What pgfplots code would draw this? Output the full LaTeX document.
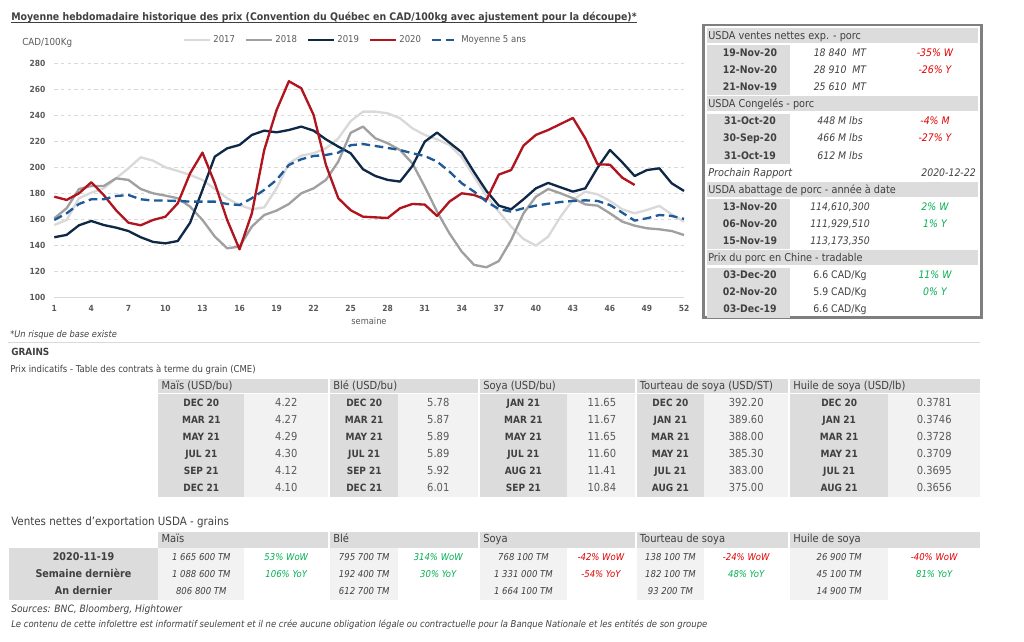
\documentclass[border=0pt]{standalone}
\usepackage{pgfplots}
\usepackage{pgfplotstable}
\pgfplotsset{compat=1.18}
\usepackage{fontspec}
\setmainfont{DejaVu Sans Condensed}

\definecolor{c17}{HTML}{D9D9D9}
\definecolor{c18}{HTML}{A0A0A0}
\definecolor{c19}{HTML}{0F2846}
\definecolor{c20}{HTML}{B0141E}
\definecolor{cavg}{HTML}{1F5A96}
\definecolor{gridc}{HTML}{D9D9D9}
\definecolor{txt}{HTML}{404040}
\definecolor{txtl}{HTML}{595959}
\definecolor{hdr}{HTML}{DCDCDC}
\definecolor{cell}{HTML}{F2F2F2}
\definecolor{neg}{HTML}{E00000}
\definecolor{pos}{HTML}{00B050}
\definecolor{boxc}{HTML}{7F7F7F}

\newcommand{\fs}[1]{\fontsize{#1}{#1}\selectfont}

% weekly price, CAD/100kg
\pgfplotstableread{
w y17 y18 y19 y20 yavg
1 155.6 160.8 146.2 177.4 159.5
2 159.5 168.5 148.0 174.9 164.6
3 176.2 183.3 155.4 180.0 171.8
4 180.5 185.6 158.7 188.5 175.4
5 183.8 185.6 155.6 178.7 175.4
6 191.5 191.5 153.6 167.0 177.9
7 199.2 190.3 151.0 157.4 178.7
8 207.7 183.3 146.2 155.4 175.4
9 205.1 180.0 142.6 159.5 174.4
10 200.0 178.2 141.5 162.0 174.4
11 197.2 176.2 143.3 172.3 174.1
12 194.1 169.7 157.4 195.4 173.6
13 190.3 159.5 182.6 211.3 173.6
14 183.3 146.7 208.2 187.7 173.6
15 176.2 137.7 214.6 159.5 171.8
16 171.0 139.0 217.2 136.9 171.0
17 167.7 154.4 224.9 164.6 176.2
18 169.2 163.3 228.2 213.3 182.6
19 183.8 166.7 226.9 244.0 190.3
20 203.0 171.8 228.7 266.2 201.8
21 209.0 180.0 231.3 260.8 206.2
22 210.8 183.8 228.2 240.3 208.7
23 214.6 190.3 221.5 201.8 209.5
24 222.3 204.4 215.9 176.2 211.3
25 235.5 226.5 210.8 167.0 217.0
26 242.8 231.3 198.5 162.0 217.9
27 242.8 222.3 193.3 161.5 216.4
28 241.5 218.5 190.3 161.0 214.9
29 237.7 213.3 189.0 168.5 213.3
30 230.0 203.0 201.0 171.8 210.8
31 224.9 185.1 219.7 171.3 208.7
32 221.5 165.9 226.7 162.6 204.4
33 217.2 149.2 219.0 173.6 196.7
34 207.7 135.1 211.5 180.0 187.7
35 192.8 124.9 196.2 178.7 181.3
36 177.9 123.1 181.8 174.9 173.6
37 165.9 127.9 170.5 194.4 167.9
38 154.4 144.1 167.7 197.9 165.9
39 144.9 164.6 175.4 216.7 168.5
40 139.7 177.4 183.8 224.9 170.5
41 146.7 183.3 188.0 228.7 172.0
42 162.0 180.0 184.6 233.3 173.3
43 174.9 176.2 181.3 238.0 174.1
44 181.3 171.5 183.8 222.3 174.6
45 179.2 170.5 199.7 202.3 174.1
46 174.1 164.6 213.3 202.0 171.0
47 167.7 158.2 203.8 192.0 165.1
48 164.6 155.1 193.3 186.4 159.0
49 167.2 153.1 197.9 nan 160.8
50 170.3 152.3 199.2 nan 163.3
51 163.8 151.0 187.7 nan 162.6
52 158.2 147.9 181.8 nan 160.3
}\prix

\tikzset{
  t/.style={inner sep=0pt, anchor=mid, text=txt},
  tl/.style={inner sep=0pt, anchor=mid west, text=txt},
  tr/.style={inner sep=0pt, anchor=mid east, text=txt},
}

\begin{document}
\begin{tikzpicture}
\begin{scope}[x=0.75pt,y=-0.75pt]
\path[use as bounding box] (0,0) rectangle (1024,642);
\end{scope}

\begin{axis}[
  at={(54.3*0.75pt,-297.3*0.75pt)}, anchor=south west,
  scale only axis, width=472.3pt, height=175.5pt,
  xmin=1, xmax=52, ymin=100, ymax=280,
  xtick={1,4,...,52}, ytick={100,120,...,280},
  axis line style={draw=none}, major tick length=0pt,
  ymajorgrids,
  grid style={gridc, line width=0.75pt, dash pattern=on 2.5pt off 2.5pt},
  /pgf/number format/assume math mode=true,
  tick label style={font=\fs{6.3}\bfseries, text=txtl},
  yticklabel style={inner sep=0pt, xshift=-6.5pt},
  xticklabel style={inner sep=0pt, yshift=-5.7pt},
  clip=false,
  every axis plot/.append style={line width=1.75pt, line join=round},
  legend style={draw=none, fill=none, at={(0.479,1.1)}, anchor=center,
    legend columns=5, font=\fs{7.1}, text=txtl, inner sep=0pt,
    /tikz/every even column/.append style={column sep=5.5pt}},
  legend image code/.code={\draw[#1] (0pt,0pt) -- (19pt,0pt);},
]
\addplot[c17] table[x=w, y=y17] {\prix};
\addlegendentry{2017}
\addplot[c18] table[x=w, y=y18] {\prix};
\addlegendentry{2018}
\addplot[c19] table[x=w, y=y19] {\prix};
\addlegendentry{2019}
\addplot[c20] table[x=w, y=y20] {\prix};
\addlegendentry{2020}
\addplot[cavg, dash pattern=on 6.5pt off 3.5pt] table[x=w, y=yavg] {\prix};
\addlegendentry{Moyenne 5 ans}
\draw[gridc, line width=0.75pt] (rel axis cs:0,0) -- (rel axis cs:1,0);
\end{axis}

\begin{scope}[x=0.75pt,y=-0.75pt]
% title and chart texts
\node[inner sep=0pt, anchor=base west, text=txt, font=\fs{7.84}\bfseries] (T) at (11,20.7)
  {Moyenne hebdomadaire historique des prix (Convention du Québec en CAD/100kg avec ajustement pour la découpe)*};
\draw[txt, line width=0.7pt] ([yshift=-1.3pt]T.base west) -- ([yshift=-1.3pt]T.base east);
\node[tl, text=txtl, font=\fs{7.3}] at (22,41.7) {CAD/100Kg};
\node[t, text=txtl, font=\fs{6.9}] at (369,321) {semaine};
\node[tl, font=\fs{6.9}\itshape] at (10,334) {*Un risque de base existe};
\draw[gridc, line width=0.75pt] (8,342.7) -- (980,342.7);

% right box
\draw[boxc, line width=2pt] (703.3,25) rectangle (981.7,317.7);
\foreach \k in {0,4,9,13} {\fill[hdr] (707,35.7+17.1*\k-8) rectangle (978,35.7+17.1*\k+7.3);}
\foreach \k in {1,5,10,14} {\fill[hdr] (707,35.7+17.1*\k-7.5) rectangle (790,35.7+17.1*\k+34.2+8.5);}
\begin{scope}[font=\fs{8.1}]
\node[tl] at (708,35.7) {USDA ventes nettes exp. - porc};
\node[tl] at (708,104.1) {USDA Congelés - porc};
\node[tl] at (708,189.6) {USDA abattage de porc - année à date};
\node[tl] at (708,258.0) {Prix du porc en Chine - tradable};
\end{scope}
\begin{scope}[font=\fs{7.8}]
\foreach \d/\v/\c/\cc [count=\i from 0] in {
  19-Nov-20/18 840\ \ MT/-35\% W/neg, 12-Nov-20/28 910\ \ MT/-26\% Y/neg, 21-Nov-19/25 610\ \ MT//neg}
  {\node[t, font=\fs{7.8}\bfseries] at (750,52.8+17.1*\i) {\d};
   \node[t, font=\fs{7.8}\itshape] at (840,52.8+17.1*\i) {\v};
   \node[t, text=\cc, font=\fs{7.8}\itshape] at (935,52.8+17.1*\i) {\c};}
\foreach \d/\v/\c/\cc [count=\i from 0] in {
  31-Oct-20/448 M lbs/-4\% M/neg, 30-Sep-20/466 M lbs/-27\% Y/neg, 31-Oct-19/612 M lbs//neg}
  {\node[t, font=\fs{7.8}\bfseries] at (750,121.2+17.1*\i) {\d};
   \node[t, font=\fs{7.8}\itshape] at (840,121.2+17.1*\i) {\v};
   \node[t, text=\cc, font=\fs{7.8}\itshape] at (935,121.2+17.1*\i) {\c};}
\node[tl, font=\fs{8.1}\itshape] at (708,172.5) {Prochain Rapport};
\node[tr, font=\fs{7.8}\itshape] at (976,172.5) {2020-12-22};
\node[t, font=\fs{7.8}\bfseries] at (750,206.7) {13-Nov-20};
\node[t, font=\fs{7.8}\bfseries] at (750,223.8) {06-Nov-20};
\node[t, font=\fs{7.8}\bfseries] at (750,240.9) {15-Nov-19};
\node[t, font=\fs{7.8}\itshape] at (840,206.7) {114,610,300};
\node[t, font=\fs{7.8}\itshape] at (840,223.8) {111,929,510};
\node[t, font=\fs{7.8}\itshape] at (840,240.9) {113,173,350};
\node[t, text=pos, font=\fs{7.8}\itshape] at (935,206.7) {2\% W};
\node[t, text=pos, font=\fs{7.8}\itshape] at (935,223.8) {1\% Y};
\foreach \d/\c/\cc [count=\i from 0] in {03-Dec-20/11\% W/pos, 02-Nov-20/0\% Y/pos, 03-Dec-19//pos}
  {\node[t, font=\fs{7.8}\bfseries] at (750,275.1+17.1*\i) {\d};
   \node[t, text=\cc, font=\fs{7.8}\itshape] at (935,275.1+17.1*\i) {\c};}
\node[t] at (840,275.1) {6.6 CAD/Kg};
\node[t] at (840,292.2) {5.9 CAD/Kg};
\node[t] at (840,309.3) {6.6 CAD/Kg};
\end{scope}

% grains futures table
\node[tl, font=\fs{7.4}\bfseries] at (11,352.3) {GRAINS};
\node[tl, font=\fs{7.1}] at (10,369.3) {Prix indicatifs - Table des contrats à terme du grain (CME)};
\foreach \xa/\xb/\xm in {158.3/328.3/244.3, 330/478.3/398.3, 480/635/566.7, 636.7/788.3/704, 790/980/888.3}
  {\fill[hdr] (\xa,379) rectangle (\xb,393);
   \fill[hdr] (\xa,394.3) rectangle (\xm,496.7);
   \fill[cell] (\xm,394.3) rectangle (\xb,496.7);}
\begin{scope}[font=\fs{8.3}]
\node[tl] at (161.3,386.3) {Maïs (USD/bu)};
\node[tl] at (333,386.3) {Blé (USD/bu)};
\node[tl] at (483,386.3) {Soya (USD/bu)};
\node[tl] at (639.7,386.3) {Tourteau de soya (USD/ST)};
\node[tl] at (793,386.3) {Huile de soya (USD/lb)};
\end{scope}
\begin{scope}[font=\fs{8.3}]
\foreach \m/\v [count=\i from 0] in {DEC 20/4.22,MAR 21/4.27,MAY 21/4.29,JUL 21/4.30,SEP 21/4.12,DEC 21/4.10}
  {\node[t, font=\fs{7.5}\bfseries] at (201.3,402.7+17.1*\i) {\m};
   \node[t, text=txtl] at (286.3,402.7+17.1*\i) {\v};}
\foreach \m/\v [count=\i from 0] in {DEC 20/5.78,MAR 21/5.87,MAY 21/5.89,JUL 21/5.89,SEP 21/5.92,DEC 21/6.01}
  {\node[t, font=\fs{7.5}\bfseries] at (364.2,402.7+17.1*\i) {\m};
   \node[t, text=txtl] at (438.3,402.7+17.1*\i) {\v};}
\foreach \m/\v [count=\i from 0] in {JAN 21/11.65,MAR 21/11.67,MAY 21/11.65,JUL 21/11.60,AUG 21/11.41,SEP 21/10.84}
  {\node[t, font=\fs{7.5}\bfseries] at (523.4,402.7+17.1*\i) {\m};
   \node[t, text=txtl] at (601.9,402.7+17.1*\i) {\v};}
\foreach \m/\v [count=\i from 0] in {DEC 20/392.20,JAN 21/389.60,MAR 21/388.00,MAY 21/385.30,JUL 21/383.00,AUG 21/375.00}
  {\node[t, font=\fs{7.5}\bfseries] at (670.4,402.7+17.1*\i) {\m};
   \node[t, text=txtl] at (746.2,402.7+17.1*\i) {\v};}
\foreach \m/\v [count=\i from 0] in {DEC 20/0.3781,JAN 21/0.3746,MAR 21/0.3728,MAY 21/0.3709,JUL 21/0.3695,AUG 21/0.3656}
  {\node[t, font=\fs{7.5}\bfseries] at (839.2,402.7+17.1*\i) {\m};
   \node[t, text=txtl] at (934.2,402.7+17.1*\i) {\v};}
\end{scope}

% export sales table
\node[tl, font=\fs{8.6}] at (11,522.3) {Ventes nettes d'exportation USDA - grains};
\fill[hdr] (9.3,548.3) rectangle (157.7,599.5);
\foreach \xa/\xb/\xm in {158.3/328.3/244.3, 330/478.3/398.3, 480/635/566.7, 636.7/788.3/704, 790/980/888.3}
  {\fill[hdr] (\xa,531.7) rectangle (\xb,547.7);
   \fill[cell] (\xa,548.3) rectangle (\xm,599.5);}
\begin{scope}[font=\fs{8.3}]
\node[tl] at (161.3,539.3) {Maïs};
\node[tl] at (333,539.3) {Blé};
\node[tl] at (483,539.3) {Soya};
\node[tl] at (639.7,539.3) {Tourteau de soya};
\node[tl] at (793,539.3) {Huile de soya};
\end{scope}
\foreach \l [count=\i from 0] in {2020-11-19, Semaine dernière, An dernier}
  {\node[t, font=\fs{8}\bfseries] at (83.5,556.7+17.2*\i) {\l};}
\begin{scope}[font=\fs{7.1}\itshape]
\foreach \xv/\xc/\a/\b/\c/\ca/\cb/\na/\nb in {
  201.3/286.3/1 665 600 TM/1 088 600 TM/806 800 TM/53\% WoW/106\% YoY/pos/pos,
  364.2/438.3/795 700 TM/192 400 TM/612 700 TM/314\% WoW/30\% YoY/pos/pos,
  523.4/600.9/768 100 TM/1 331 000 TM/1 664 100 TM/-42\% WoW/-54\% YoY/neg/neg,
  670.4/746.2/138 100 TM/182 100 TM/93 200 TM/-24\% WoW/48\% YoY/neg/pos,
  839.2/934.2/26 900 TM/45 100 TM/14 900 TM/-40\% WoW/81\% YoY/neg/pos}
  {\node[t] at (\xv,556.7) {\a};
   \node[t] at (\xv,573.9) {\b};
   \node[t] at (\xv,591.1) {\c};
   \node[t, text=\na] at (\xc,556.7) {\ca};
   \node[t, text=\nb] at (\xc,573.9) {\cb};}
\end{scope}
\node[tl, font=\fs{7.6}\itshape] at (11,609) {Sources: BNC, Bloomberg, Hightower};
\node[tl, font=\fs{7.05}\itshape] at (11,624.3) {Le contenu de cette infolettre est informatif seulement et il ne crée aucune obligation légale ou contractuelle pour la Banque Nationale et les entités de son groupe};
\end{scope}
\end{tikzpicture}
\end{document}
